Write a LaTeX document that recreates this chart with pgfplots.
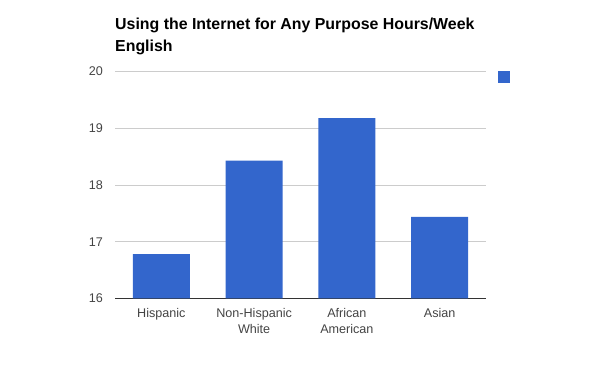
\documentclass[border=0pt]{standalone}
\usepackage{pgfplots}
\pgfplotsset{compat=1.18}
\usepackage{fontspec}
\setmainfont{Liberation Sans}
\definecolor{barblue}{HTML}{3366CC}
\definecolor{gridgray}{HTML}{CCCCCC}
\definecolor{axisdark}{HTML}{333333}
\definecolor{labelgray}{HTML}{444444}
\begin{document}
\begin{tikzpicture}[x=1pt,y=1pt]
\path[use as bounding box] (0,0) rectangle (600,-371);
\node[anchor=base west, inner sep=0pt, font=\bfseries\fontsize{15.9}{22}\selectfont] at (115,-30) {Using the Internet for Any Purpose Hours/Week};
\node[anchor=base west, inner sep=0pt, font=\bfseries\fontsize{15.9}{22}\selectfont] at (115,-52) {English};
\begin{axis}[
  at={(115pt,-298.5pt)}, anchor=south west,
  scale only axis, width=371pt, height=227pt,
  xmin=-0.5, xmax=3.5, ymin=16, ymax=20,
  ytick={16,17,18,19,20},
  xtick=data,
  xticklabels={Hispanic,Non-Hispanic\\White,African\\American,Asian},
  xticklabel style={align=center, font=\fontsize{12.6}{16}\selectfont, text=labelgray, anchor=north, inner sep=0pt, yshift=-9.5pt},
  yticklabel style={font=\fontsize{12.6}{16}\selectfont, text=labelgray, anchor=east, inner sep=0pt, xshift=-12pt},
  /pgf/number format/assume math mode=true,
  major tick length=0pt,
  axis x line*=bottom, axis y line*=left,
  x axis line style={draw=axisdark, line width=1pt, -},
  y axis line style={draw=none},
  ymajorgrids, grid style={draw=gridgray, line width=0.8pt},
  ybar, bar width=57pt, bar shift=0pt,
  legend style={at={(rel axis cs:1,1)}, anchor=north west, draw=none, fill=none, inner sep=0pt, outer sep=0pt, xshift=12pt, yshift=0.5pt},
  legend image code/.code={\fill[barblue] (0pt,-6pt) rectangle (12pt,6pt);},
]
\addplot[fill=barblue, draw=none] coordinates {(0,16.78) (1,18.43) (2,19.18) (3,17.44)};
\addlegendentry{}
\end{axis}
\end{tikzpicture}
\end{document}
